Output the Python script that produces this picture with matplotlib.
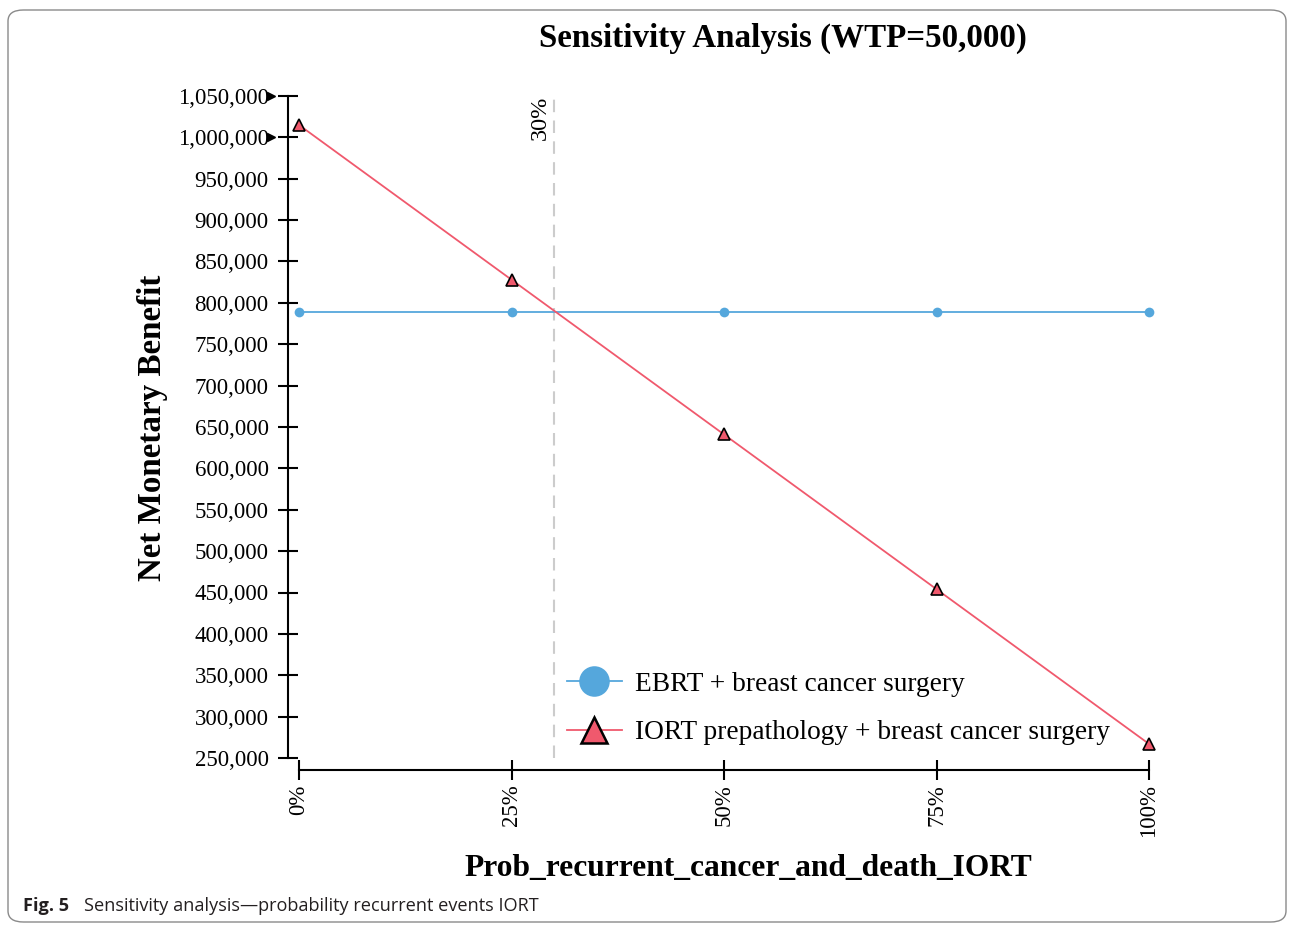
import matplotlib
matplotlib.use('Agg')
from matplotlib import pyplot as plt
from matplotlib.patches import FancyBboxPatch
from matplotlib.ticker import FuncFormatter
from matplotlib.transforms import blended_transform_factory

# data
probs = [0.0, 0.25, 0.50, 0.75, 1.0]
ebrt_nmb = [789000, 789000, 789000, 789000, 789000]
iort_nmb = [1015000, 828000, 641000, 454000, 267000]
threshold = 0.30
y_ticks = list(range(250000, 1050001, 50000))
x_labels = ['0%', '25%', '50%', '75%', '100%']

ebrt_color = '#55A7DC'
iort_color = '#F0596D'
serif = ['Liberation Serif', 'DejaVu Serif']

fig = plt.figure(figsize=(12.89, 9.25), dpi=100)
W, H = 1289, 925
ax = fig.add_axes([299 / W, 1 - 758 / H, (1149 - 299) / W, (758 - 96) / H])

ax.axvline(threshold, color='#CCCCCC', linestyle=(0, (6, 4)), linewidth=1.5,
           ymin=0, ymax=1, zorder=1)
ax.text(threshold - 0.004, 1050000, '{:.0%}'.format(threshold), rotation=90,
        ha='right', va='top', family=serif, fontsize=17.5)

ax.plot(probs, ebrt_nmb, color=ebrt_color, linewidth=1.3, marker='o',
        markersize=7, markeredgewidth=0, clip_on=False, zorder=3,
        label='EBRT + breast cancer surgery')
ax.plot(probs, iort_nmb, color=iort_color, linewidth=1.3, marker='^',
        markersize=8, markeredgecolor='black', markeredgewidth=1.2,
        clip_on=False, zorder=3,
        label='IORT prepathology + breast cancer surgery')

ax.set_xlim(0, 1)
ax.set_ylim(250000, 1050000)
ax.set_xticks(probs)
ax.set_xticklabels(x_labels)
ax.set_yticks(y_ticks)
ax.yaxis.set_major_formatter(FuncFormatter(lambda v, p: '{:,.0f}'.format(v)))

for s in ['top', 'right']:
    ax.spines[s].set_visible(False)
ax.spines['left'].set_position(('outward', 8))
ax.spines['bottom'].set_position(('outward', 8.6))
ax.spines['left'].set_bounds(250000, 1050000)
ax.spines['bottom'].set_bounds(0, 1)
for s in ['left', 'bottom']:
    ax.spines[s].set_linewidth(1.5)
ax.tick_params(direction='inout', length=13.7, width=1.5,
               labelfontfamily='Liberation Serif', labelsize=16.5)
ax.tick_params(axis='y', pad=7)
ax.tick_params(axis='x', pad=3.5, labelrotation=90)

# little arrow glyphs next to the two top tick labels
arrow_tr = blended_transform_factory(ax.transAxes, ax.transData)
ax.plot([-0.0335, -0.0335], [y_ticks[-1], y_ticks[-2]], linestyle='none',
        marker='>', markersize=6, color='black', transform=arrow_tr,
        clip_on=False)

fig.text(783 / W, 1 - 38.5 / H, 'Sensitivity Analysis (WTP=50,000)',
         family=serif, fontsize=23.8, fontweight='bold', ha='center',
         va='center')
fig.text(152 / W, 1 - 428 / H, 'Net Monetary Benefit', family=serif,
         fontsize=23.8, fontweight='bold', rotation=90, ha='center',
         va='center')
fig.text(748 / W, 1 - 868 / H, 'Prob_recurrent_cancer_and_death_IORT',
         family=serif, fontsize=22.7, fontweight='bold', ha='center',
         va='center')

leg = ax.legend(loc='center left', bbox_to_anchor=(567 / W, 1 - 708.5 / H),
                bbox_transform=fig.transFigure, frameon=False,
                borderpad=0, borderaxespad=0,
                prop={'family': serif, 'size': 19.7},
                handlelength=2.0, handletextpad=0.5, labelspacing=0.85)
leg.legend_handles[0].set_markersize(22)
leg.legend_handles[1].set_markersize(19)
leg.legend_handles[1].set_markeredgewidth(1.8)

# figure frame and caption
fig.patches.append(FancyBboxPatch((8 / W, 3 / H), 1278 / W, 912 / H,
                                  boxstyle='round,pad=0,rounding_size=0.012',
                                  transform=fig.transFigure, fill=False,
                                  edgecolor='#8A8A8A', linewidth=1.0))
fig.text(23 / W, 1 - 906 / H, 'Fig. 5', family='Open Sans', fontweight='bold',
         fontsize=13.1, va='center', color='#231F20')
fig.text(84 / W, 1 - 906 / H,
         'Sensitivity analysis\u2014probability recurrent events IORT',
         family='Open Sans', fontsize=13.1, va='center', color='#231F20')

fig.savefig('out.png', dpi=100)
